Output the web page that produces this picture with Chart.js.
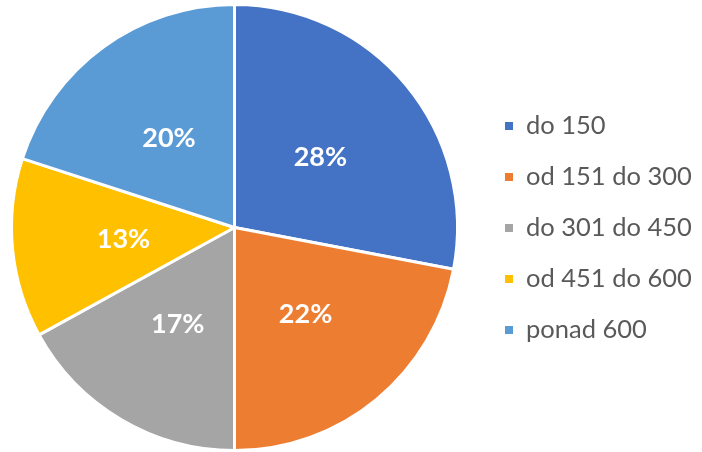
<!DOCTYPE html>
<html>
<head>
<meta charset="utf-8">
<script src="https://cdn.jsdelivr.net/npm/chart.js@4"></script>
<style>
  html, body { margin: 0; padding: 0; background: #fff; }
  #wrap { width: 702px; height: 452px; }
</style>
</head>
<body>
<div id="wrap"><canvas id="pieChart" width="702" height="452"></canvas></div>
<script>
// --- Data ---
const categories = ['do 150', 'od 151 do 300', 'do 301 do 450', 'od 451 do 600', 'ponad 600'];
const shares = [28, 22, 17, 13, 20];
const sliceColors = ['#4472C4', '#ED7D31', '#A5A5A5', '#FFC000', '#5B9BD5'];

// --- Percent labels inside slices ---
const pctLabels = {
    id: 'pctLabels',
    afterDatasetsDraw(chart) {
        const ctx = chart.ctx;
        const meta = chart.getDatasetMeta(0);
        ctx.save();
        ctx.fillStyle = '#fff';
        ctx.font = 'bold 27px Lato';
        ctx.textAlign = 'center';
        ctx.textBaseline = 'middle';
        meta.data.forEach((arc, i) => {
            const pos = arc.tooltipPosition();
            ctx.fillText(shares[i] + '%', pos.x, pos.y + 1);
        });
        ctx.restore();
    }
};

// --- Legend on the right, drawn by hand ---
const sideLegend = {
    id: 'sideLegend',
    afterDraw(chart) {
        const ctx = chart.ctx;
        ctx.save();
        ctx.font = '25.5px Lato';
        ctx.textBaseline = 'middle';
        categories.forEach((name, i) => {
            const y = 126 + i * 51;
            ctx.fillStyle = sliceColors[i];
            ctx.fillRect(505, y - 4, 8, 8);
            ctx.fillStyle = '#595959';
            ctx.fillText(name, 526, y);
        });
        ctx.restore();
    }
};

new Chart(document.getElementById('pieChart'), {
    type: 'pie',
    data: {
        labels: categories,
        datasets: [{
            data: shares,
            backgroundColor: sliceColors,
            borderColor: '#fff',
            borderWidth: 3
        }]
    },
    options: {
        responsive: false,
        animation: false,
        layout: { padding: { left: 9, right: 242, top: 3, bottom: -5 } },
        plugins: {
            legend: { display: false },
            tooltip: { enabled: false }
        }
    },
    plugins: [pctLabels, sideLegend]
});
</script>
</body>
</html>
